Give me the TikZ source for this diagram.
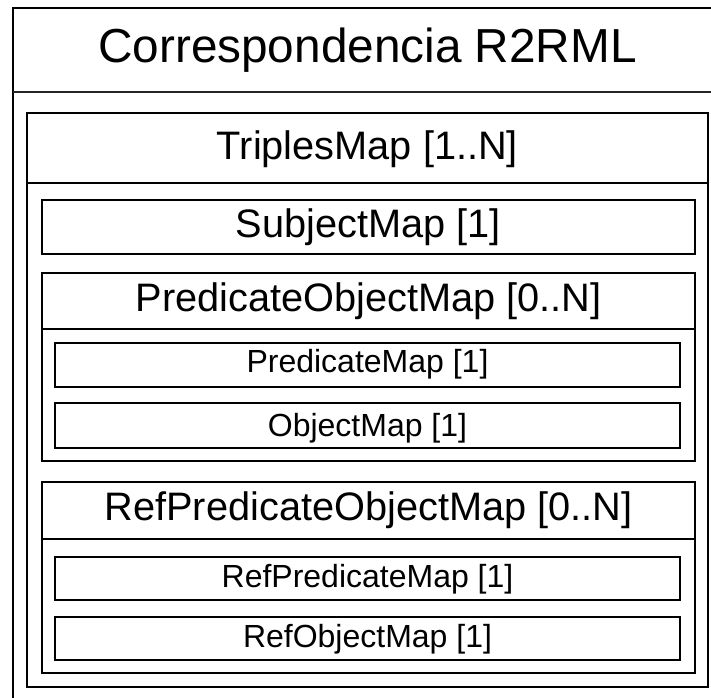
\documentclass[tikz,border=0pt]{standalone}
\usepackage{fontspec}
\setmainfont{Liberation Sans}
\begin{document}
\begin{tikzpicture}[x=0.75pt,y=-0.75pt,
  box/.style={draw=black,line width=1.5pt},
  divider/.style={draw=black!85,line width=1.2pt},
  lblA/.style={inner sep=0pt,font=\fontsize{35.8}{40}\selectfont},
  lblB/.style={inner sep=0pt,font=\fontsize{29.8}{34}\selectfont},
  lblC/.style={inner sep=0pt,font=\fontsize{24}{28}\selectfont}]
\useasboundingbox (0,0) rectangle (711,698);
\clip (0,0) rectangle (711,698);
\fill[white] (0,0) rectangle (711,698);
% outer
\draw[box] (13,8) rectangle (722,712);
\draw[divider] (13,92) -- (722,92);
\node[lblA] (title) at (367.5,50) {Correspondencia R2RML};
% TriplesMap
\draw[box] (27,113) rectangle (708,687);
\draw[box] (27,183) -- (708,183);
\node[lblB] (tm) at (367.5,149) {TriplesMap [1..N]};
% SubjectMap
\draw[box] (42,200) rectangle (695,254);
\node[lblB] (sm) at (368.5,227) {SubjectMap [1]};
% PredicateObjectMap
\draw[box] (42,273) rectangle (695,461);
\draw[box] (42,329) -- (695,329);
\node[lblB] (pom) at (368.5,301) {PredicateObjectMap [0..N]};
\draw[box] (55,343) rectangle (680,387);
\node[lblC] (pm) at (367.5,364) {PredicateMap [1]};
\draw[box] (55,403) rectangle (680,448);
\node[lblC] (om) at (367.5,428) {ObjectMap [1]};
% RefPredicateObjectMap
\draw[box] (42,482) rectangle (695,673);
\draw[box] (42,539) -- (695,539);
\node[lblB] (rpom) at (368.5,510.5) {RefPredicateObjectMap [0..N]};
\draw[box] (55,557) rectangle (680,600);
\node[lblC] (rpm) at (367.5,579) {RefPredicateMap [1]};
\draw[box] (55,617) rectangle (680,660);
\node[lblC] (rom) at (367.5,639.5) {RefObjectMap [1]};
\end{tikzpicture}
\end{document}
